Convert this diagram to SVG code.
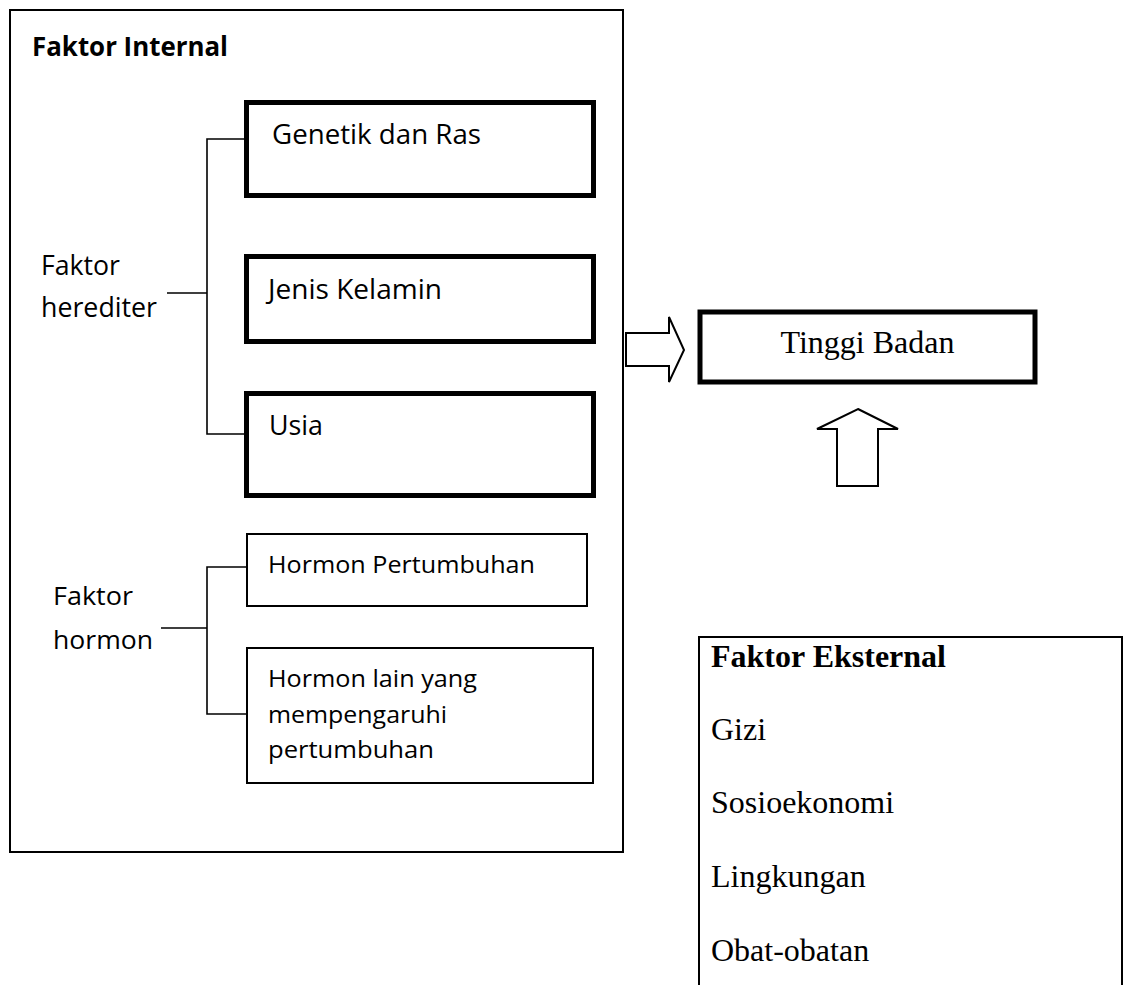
<svg xmlns="http://www.w3.org/2000/svg" width="1123" height="985" viewBox="0 0 1123 985">
<style>
.sans{font-family:"Open Sans","Liberation Sans",sans-serif;fill:#000}
.serif{font-family:"Liberation Serif","Times New Roman",serif;fill:#000;font-size:32px}
.thick{fill:#fff;stroke:#000;stroke-width:5}
.thin{fill:#fff;stroke:#000;stroke-width:2}
.ln{fill:none;stroke:#000;stroke-width:1.6}
</style>
<rect width="1123" height="985" fill="#fff"/>
<g id="faktor-internal">
<rect x="10" y="10" width="613" height="842" class="thin"/>
<text x="32" y="56" class="sans" font-size="26" font-weight="bold" textLength="196" lengthAdjust="spacingAndGlyphs">Faktor Internal</text>
</g>
<g id="faktor-herediter">
<text x="41" y="275" class="sans" font-size="27" textLength="79" lengthAdjust="spacingAndGlyphs">Faktor</text>
<text x="41" y="317" class="sans" font-size="27" textLength="116" lengthAdjust="spacingAndGlyphs">herediter</text>
</g>
<g id="genetik">
<rect x="246.5" y="102.5" width="347" height="93" class="thick"/>
<text x="272" y="144" class="sans" font-size="27" textLength="209" lengthAdjust="spacingAndGlyphs">Genetik dan Ras</text>
</g>
<g id="jenis-kelamin">
<rect x="246.5" y="256.5" width="347" height="85" class="thick"/>
<text x="268" y="299" class="sans" font-size="27" textLength="174" lengthAdjust="spacingAndGlyphs">Jenis Kelamin</text>
</g>
<g id="usia">
<rect x="246.5" y="393.5" width="347" height="102" class="thick"/>
<text x="269" y="435" class="sans" font-size="27" textLength="54" lengthAdjust="spacingAndGlyphs">Usia</text>
</g>
<g id="faktor-hormon">
<text x="53" y="605" class="sans" font-size="26" textLength="80" lengthAdjust="spacingAndGlyphs">Faktor</text>
<text x="53" y="649" class="sans" font-size="26" textLength="100" lengthAdjust="spacingAndGlyphs">hormon</text>
</g>
<g id="hormon-pertumbuhan">
<rect x="247" y="534" width="340" height="72" class="thin"/>
<text x="268" y="573" class="sans" font-size="23" textLength="267" lengthAdjust="spacingAndGlyphs">Hormon Pertumbuhan</text>
</g>
<g id="hormon-lain">
<rect x="247" y="648" width="346" height="135" class="thin"/>
<text x="268" y="687" class="sans" font-size="23" textLength="209" lengthAdjust="spacingAndGlyphs">Hormon lain yang</text>
<text x="268" y="723" class="sans" font-size="23" textLength="179" lengthAdjust="spacingAndGlyphs">mempengaruhi</text>
<text x="268" y="758" class="sans" font-size="23" textLength="166" lengthAdjust="spacingAndGlyphs">pertumbuhan</text>
</g>
<g id="tinggi-badan">
<rect x="700" y="312" width="335" height="70" class="thick" stroke-width="6"/>
<text x="867.5" y="353" class="serif" text-anchor="middle">Tinggi Badan</text>
</g>
<g id="faktor-eksternal">
<path d="M699,985 V637 H1122 V985" fill="#fff" stroke="#000" stroke-width="2"/>
<text x="711" y="667" class="serif" font-weight="bold">Faktor Eksternal</text>
<text x="711" y="740" class="serif">Gizi</text>
<text x="711" y="813" class="serif">Sosioekonomi</text>
<text x="711" y="887" class="serif">Lingkungan</text>
<text x="711" y="961" class="serif">Obat-obatan</text>
</g>
<g id="connectors">
<path class="ln" d="M244,139 H207 V434 H244 M167,293 H207"/>
<path class="ln" d="M247,567 H207 V714 H247 M161,628 H207"/>
<polygon points="626,333 669,333 669,317 684,350 669,382 669,366 626,366" class="thin"/>
<polygon points="858,409 898,429 878,429 878,486 837,486 837,429 817,429" class="thin"/>
</g>
</svg>
